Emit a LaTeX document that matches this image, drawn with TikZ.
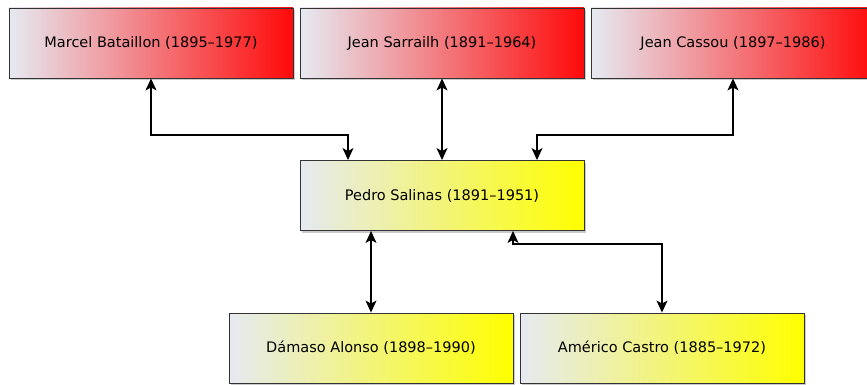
\documentclass[tikz,border=0pt]{standalone}
\usepackage{fontspec}
\setmainfont{DejaVu Sans}
\usetikzlibrary{arrows.meta,calc,shadows}

\definecolor{boxleft}{HTML}{E6EAF2}
\definecolor{boxred}{HTML}{FF0A0A}
\definecolor{boxyellow}{HTML}{FFFF00}
\definecolor{boxline}{HTML}{333333}

\tikzset{
  person/.style={draw=boxline,line width=0.9pt,minimum width=284pt,minimum height=70pt,
    inner sep=0pt,font=\fontsize{14.5}{16}\selectfont,left color=boxleft,
    drop shadow={shadow xshift=2pt,shadow yshift=-2pt,opacity=0.35,fill=black!60}},
  teacher/.style={person,right color=boxred},
  pupil/.style={person,right color=boxyellow},
  link/.style={{Stealth[length=12pt,width=11pt,inset=3pt]}-{Stealth[length=12pt,width=11pt,inset=3pt]},line width=1.2pt}
}

\begin{document}
\begin{tikzpicture}[x=1pt,y=-1pt]
  \useasboundingbox (0,0) rectangle (867,385);
  % upper row
  \node[teacher] (bataillon) at (151,43) {Marcel Bataillon (1895–1977)};
  \node[teacher] (sarrailh) at (442,43) {Jean Sarrailh (1891–1964)};
  \node[teacher] (cassou) at (733,43) {Jean Cassou (1897–1986)};
  % middle
  \node[pupil] (salinas) at (442,195.5) {Pedro Salinas (1891–1951)};
  % lower row
  \node[pupil] (alonso) at (371,348) {Dámaso Alonso (1898–1990)};
  \node[pupil] (castro) at (662,348) {Américo Castro (1885–1972)};

  \coordinate (inleft) at ($(salinas.north)+(-94,0)$);
  \coordinate (inright) at ($(salinas.north)+(95,0)$);
  \coordinate (outleft) at ($(salinas.south)+(-71,0)$);
  \coordinate (outright) at ($(salinas.south)+(71,0)$);

  \draw[link] (bataillon.south) |- ($(inleft)+(0,-25)$) -- (inleft);
  \draw[link] (sarrailh.south) -- (salinas.north);
  \draw[link] (cassou.south) |- ($(inright)+(0,-25)$) -- (inright);
  \draw[link] (outleft) -- (outleft |- alonso.north);
  \draw[link] (outright) -- ($(outright)+(0,13)$) -| (castro.north);
\end{tikzpicture}
\end{document}
